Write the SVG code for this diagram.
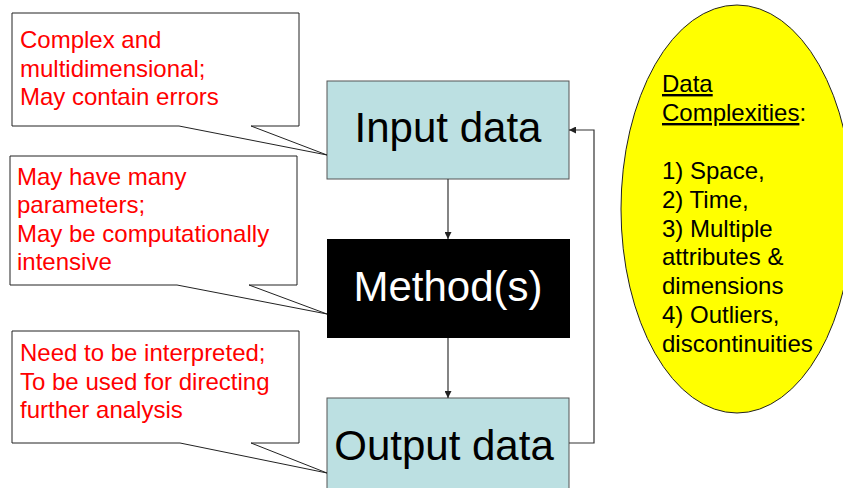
<svg xmlns="http://www.w3.org/2000/svg" width="843" height="488" viewBox="0 0 843 488">
  <style>
    .callout { fill: #ffffff; stroke: #222222; stroke-width: 1; }
    .note { font-family: "Liberation Sans", Arial, sans-serif; font-size: 24px; fill: #ff0000; }
    .box { stroke: #555555; stroke-width: 1; }
    .data { fill: #bce0e2; }
    .label { font-family: "Liberation Sans", Arial, sans-serif; font-size: 42px; text-anchor: middle; }
    .wire { fill: none; stroke: #333333; stroke-width: 1.2; }
    .info { font-family: "Liberation Sans", Arial, sans-serif; font-size: 24px; fill: #000000; }
  </style>
  <defs>
    <marker id="arrow" viewBox="0 0 10 10" refX="10" refY="5" markerWidth="7" markerHeight="7" markerUnits="userSpaceOnUse" orient="auto">
      <path d="M0,0 L10,5 L0,10 Z" fill="#222222"/>
    </marker>
  </defs>
  <rect width="843" height="488" fill="#ffffff"/>

  <!-- flow boxes -->
  <g id="input-data">
    <rect class="box data" x="327" y="81" width="242" height="98"/>
    <text class="label" x="448" y="142">Input data</text>
  </g>
  <g id="methods">
    <rect x="327" y="239" width="243" height="99" fill="#000000"/>
    <text class="label" x="448" y="301" fill="#ffffff">Method(s)</text>
  </g>
  <g id="output-data">
    <rect class="box data" x="327" y="398" width="242" height="110"/>
    <text class="label" x="444" y="460">Output data</text>
  </g>

  <!-- connectors -->
  <g id="connectors">
    <line class="wire" x1="448" y1="179" x2="448" y2="239" marker-end="url(#arrow)"/>
    <line class="wire" x1="448" y1="338" x2="448" y2="398" marker-end="url(#arrow)"/>
    <polyline class="wire" points="569,443 594,443 594,130 569,130" marker-end="url(#arrow)"/>
  </g>

  <!-- callout notes -->
  <g id="note-input">
    <path class="callout" d="M12,13 H299 V126 H251 L327,155 L179,126 H12 Z"/>
    <text class="note" x="20" y="48">Complex and</text>
    <text class="note" x="20" y="77">multidimensional;</text>
    <text class="note" x="20" y="105">May contain errors</text>
  </g>
  <g id="note-method">
    <path class="callout" d="M10,156 H297 V285 H249 L327,314 L177,285 H10 Z"/>
    <text class="note" x="17" y="185">May have many</text>
    <text class="note" x="17" y="213">parameters;</text>
    <text class="note" x="17" y="242">May be computationally</text>
    <text class="note" x="17" y="270">intensive</text>
  </g>
  <g id="note-output">
    <path class="callout" d="M12,331 H299 V443 H251 L327,473 L180,443 H12 Z"/>
    <text class="note" x="20" y="361">Need to be interpreted;</text>
    <text class="note" x="20" y="390">To be used for directing</text>
    <text class="note" x="20" y="418">further analysis</text>
  </g>

  <!-- data complexities -->
  <g id="complexities">
    <ellipse cx="737" cy="209" rx="116" ry="204" fill="#ffff00" stroke="#222222" stroke-width="1"/>
    <text class="info" x="662" y="92" text-decoration="underline">Data</text>
    <text class="info" x="662" y="121"><tspan text-decoration="underline">Complexities</tspan>:</text>
    <text class="info" x="662" y="179">1) Space,</text>
    <text class="info" x="662" y="208">2) Time,</text>
    <text class="info" x="662" y="237">3) Multiple</text>
    <text class="info" x="662" y="265">attributes &amp;</text>
    <text class="info" x="662" y="294">dimensions</text>
    <text class="info" x="662" y="323">4) Outliers,</text>
    <text class="info" x="662" y="352">discontinuities</text>
  </g>
</svg>
